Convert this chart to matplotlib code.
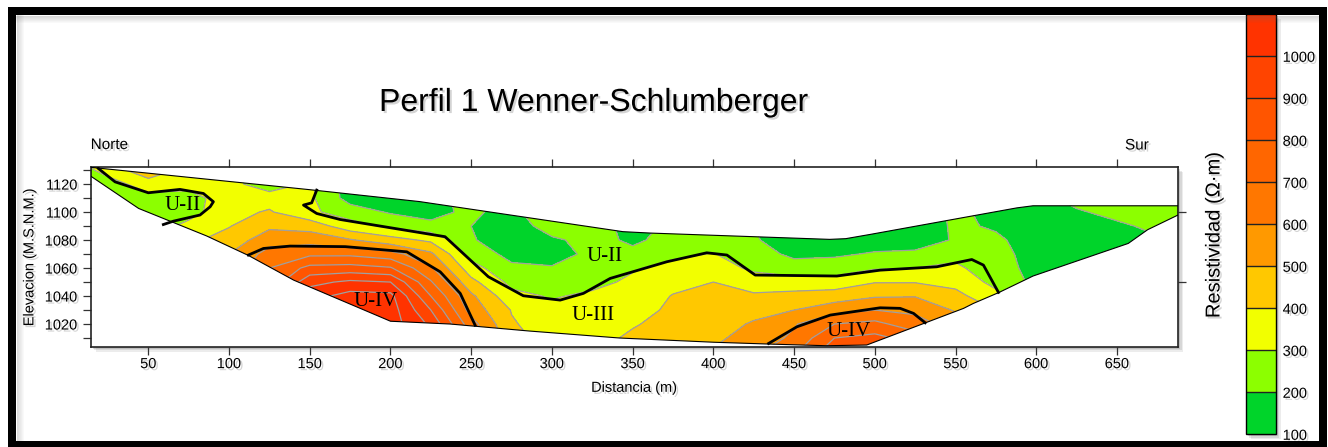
import numpy as np
import matplotlib
matplotlib.use("Agg")
import matplotlib.pyplot as plt
import matplotlib.patheffects as pe
from matplotlib.colors import ListedColormap, BoundaryNorm
from matplotlib.patches import Polygon, Rectangle
from matplotlib.lines import Line2D
from matplotlib.cm import ScalarMappable

plt.rcParams["font.family"] = ["Liberation Sans", "DejaVu Sans"]

# resistivity grid: distance along the line (m) and elevation (m.s.n.m.)
dist = np.arange(0, 701, 25)
elev = np.arange(1000, 1141, 10)

# resistivity (ohm.m), one list per distance, elevation 1000 -> 1140
rho_cols = [
    [250, 250, 250, 250, 250, 250, 250, 250, 250, 250, 250, 250, 250, 230, 280],   # 0
    [250, 250, 250, 250, 250, 250, 250, 250, 250, 250, 250, 250, 260, 335, 380],   # 25
    [240, 240, 240, 240, 240, 240, 240, 240, 240, 240, 240, 270, 345, 480, 480],   # 50
    [380, 380, 380, 380, 380, 380, 380, 380, 380, 330, 260, 255, 340, 360, 360],   # 75
    [520, 520, 520, 520, 520, 520, 520, 500, 440, 395, 370, 360, 340, 320, 320],   # 100
    [720, 720, 720, 720, 720, 720, 700, 640, 560, 480, 410, 360, 230, 250, 250],   # 125
    [1100, 1100, 1100, 1100, 1060, 970, 830, 680, 560, 460, 320, 320, 320, 320, 320],  # 150
    [1150, 1150, 1150, 1150, 1140, 1020, 840, 680, 510, 340, 250, 160, 150, 150, 150],  # 175
    [1150, 1150, 1150, 1150, 1130, 1000, 810, 640, 440, 280, 190, 150, 150, 150, 150],  # 200
    [1000, 990, 980, 900, 800, 710, 615, 520, 380, 230, 160, 150, 150, 150, 150],   # 225
    [700, 680, 640, 560, 520, 430, 340, 260, 210, 200, 230, 250, 250, 250, 250],   # 250
    [440, 440, 410, 395, 330, 270, 220, 170, 140, 130, 140, 150, 150, 150, 150],   # 275
    [350, 350, 350, 330, 290, 230, 210, 150, 180, 260, 380, 380, 380, 380, 380],   # 300
    [360, 360, 350, 340, 320, 270, 240, 230, 240, 260, 280, 280, 280, 280, 280],   # 325
    [450, 420, 390, 360, 340, 320, 290, 230, 180, 150, 150, 150, 150, 150, 150],   # 350
    [470, 460, 440, 420, 405, 370, 330, 280, 240, 230, 230, 230, 230, 230, 230],   # 375
    [510, 480, 460, 440, 420, 400, 350, 305, 250, 220, 220, 220, 220, 220, 220],   # 400
    [580, 540, 510, 470, 415, 350, 280, 240, 210, 200, 200, 200, 200, 200, 200],   # 425
    [680, 620, 590, 500, 430, 345, 240, 180, 150, 150, 150, 150, 150, 150, 150],   # 450
    [870, 800, 700, 560, 450, 340, 250, 185, 150, 150, 150, 150, 150, 150, 150],   # 475
    [900, 830, 730, 600, 490, 395, 290, 210, 150, 140, 140, 140, 140, 140, 140],   # 500
    [820, 760, 640, 580, 495, 395, 300, 220, 150, 140, 140, 140, 140, 140, 140],   # 525
    [650, 620, 560, 490, 430, 370, 320, 270, 210, 215, 220, 220, 220, 220, 220],   # 550
    [500, 470, 440, 400, 330, 270, 240, 230, 215, 190, 170, 170, 170, 170, 170],   # 575
    [200, 200, 200, 200, 180, 175, 170, 165, 160, 150, 150, 170, 170, 170, 170],   # 600
    [150, 150, 150, 150, 150, 150, 150, 150, 155, 165, 190, 230, 230, 230, 230],   # 625
    [160, 160, 160, 160, 160, 160, 160, 160, 170, 185, 225, 260, 260, 260, 260],   # 650
    [190, 190, 190, 190, 190, 190, 190, 190, 190, 220, 240, 260, 260, 260, 260],   # 675
    [220, 220, 220, 220, 220, 220, 220, 220, 220, 240, 250, 260, 260, 260, 260],   # 700
]
rho = np.array(rho_cols, dtype=float).T

# topography and base of the section
top_x = [14.3, 150, 218, 344, 361, 472, 482, 497, 588, 598, 688]
top_z = [1132, 1116, 1107.5, 1086, 1085, 1080.5, 1081, 1084, 1103, 1104.5, 1104.5]
bot_x = [14.3, 44, 86, 112, 140, 200, 237, 286, 342, 400, 434, 470, 495,
         531, 555, 561, 577, 598, 657, 669, 688]
bot_z = [1125.7, 1102.6, 1083, 1069, 1051.4, 1022, 1020, 1015, 1010, 1007, 1005.7,
         1004.5, 1005, 1020.7, 1031.2, 1034.7, 1042.6, 1054.3, 1077.6, 1087.4, 1098]

# interpreted unit boundaries
u2_norte_x = [19, 29.4, 50, 69.6, 84.1, 90.3, 88.3, 82, 65.5, 59.3]
u2_norte_z = [1131.2, 1121.6, 1113.8, 1116.2, 1113.3, 1107.4, 1103.8, 1097.9, 1093.5, 1091.1]
u2_u3_x = [154.3, 151.2, 146.1, 154.3, 168.8, 233.8, 260.6, 282.3, 305.1, 319.5, 336.1,
           371.2, 395.9, 408.4, 425.9, 476.5, 503.3, 538.4, 560.1, 567.3, 576.6]
u2_u3_z = [1115.7, 1106.6, 1105.0, 1099.0, 1094.7, 1082.4, 1053.8, 1040.2, 1037.1, 1041.9,
           1052.6, 1064.5, 1070.9, 1069.3, 1055.0, 1054.3, 1058.5, 1060.9, 1066.1, 1062.1, 1042.6]
u4_oeste_x = [112, 121.3, 137.8, 172, 210.1, 230.8, 243.2, 252.4]
u4_oeste_z = [1069.3, 1074, 1075.7, 1075.3, 1071.6, 1057.3, 1041.9, 1019.2]
u4_este_x = [434.2, 451.7, 472.4, 503.3, 515.7, 524, 531.2]
u4_este_z = [1006.1, 1018, 1026.4, 1031.6, 1031.2, 1027.6, 1020.9]

unit_labels = [("U-II", 71.4, 1105), ("U-II", 332.8, 1068.2), ("U-III", 325.6, 1026),
               ("U-IV", 191, 1036), ("U-IV", 483.6, 1014.7)]

levels = list(range(100, 1101, 100)) + [5000]
fill_colors = ["#00d42a", "#8cff00", "#f2ff00", "#ffc800", "#ff9900",
               "#ff7700", "#ff6600", "#ff5500", "#ff4400", "#ff3300", "#ff3300"]

W, H = 1328, 447
fig = plt.figure(figsize=(W / 100, H / 100), dpi=100)


def fx(px):
    return px / W


def fy(py):
    return 1 - py / H


shadow = [pe.withSimplePatchShadow(offset=(1.5, -1.5), shadow_rgbFace="0.45", alpha=0.3)]

ax_box = [fx(90.7), fy(346.7), fx(1178.3) - fx(90.7), fy(167.3) - fy(346.7)]
cax_box = [fx(1245.7), fy(434.3), fx(1275.7) - fx(1245.7), fy(14.3) - fy(434.3)]

# soft drop shadows behind the plot and the colour bar
for box in (ax_box, cax_box):
    for k, a in zip((5, 3.5, 2), (0.10, 0.13, 0.18)):
        fig.add_artist(Rectangle((box[0] + fx(k), box[1] - k / H), box[2], box[3],
                                 transform=fig.transFigure, facecolor="0.3",
                                 edgecolor="none", alpha=a, zorder=-2))

ax = fig.add_axes(ax_box)
X, Z = np.meshgrid(dist, elev)

section = Polygon(np.column_stack([np.r_[top_x, bot_x[::-1]], np.r_[top_z, bot_z[::-1]]]),
                  closed=True, facecolor="none", edgecolor="black", lw=0.8, zorder=3)
ax.add_patch(section)

cf = ax.contourf(X, Z, rho, levels=levels, colors=fill_colors)
cf.set_clip_path(section)
cl = ax.contour(X, Z, rho, levels=levels[1:-1], colors="#a0a0a0", linewidths=0.9)
cl.set_clip_path(section)

for lx, lz in [(u2_norte_x, u2_norte_z), (u2_u3_x, u2_u3_z),
               (u4_oeste_x, u4_oeste_z), (u4_este_x, u4_este_z)]:
    ax.plot(lx, lz, color="black", lw=2, zorder=4)

for name, lx, lz in unit_labels:
    ax.text(lx, lz, name, family=["Liberation Serif", "DejaVu Serif"], fontsize=15,
            ha="center", va="center", zorder=5)

ax.set_xlim(14.3, 688)
ax.set_ylim(1003.8, 1132)
ax.set_xticks(range(50, 651, 50))
ax.set_yticks(range(1020, 1121, 20))
ax.set_yticks(range(1010, 1131, 10), minor=True)
ax.tick_params(axis="both", which="both", direction="out", length=5.5, width=0.9,
               colors="#333333", labelcolor="black", labelsize=10.5)
ax.tick_params(axis="x", top=True, pad=2)
ax.tick_params(axis="y", pad=4)
for sp in ax.spines.values():
    sp.set_linewidth(1.2)
    sp.set_color("#222222")

sec = ax.secondary_yaxis("right")
sec.set_yticks([1050, 1100])
sec.set_yticklabels([])
sec.tick_params(direction="out", length=6, width=0.9, colors="#333333")
sec.spines["right"].set_visible(False)

ax.set_xlabel("Distancia (m)", fontsize=10.5, labelpad=7)
ax.set_ylabel("Elevacion (M.S.N.M.)", fontsize=10.5, labelpad=6)
for t in ax.get_xticklabels() + ax.get_yticklabels() + [ax.xaxis.label, ax.yaxis.label]:
    t.set_path_effects(shadow)

fig.text(fx(594), fy(103), "Perfil 1 Wenner-Schlumberger", fontsize=23,
         ha="center", va="center", path_effects=shadow)
fig.text(fx(90.7), fy(145), "Norte", fontsize=11, ha="left", va="center", path_effects=shadow)
fig.text(fx(1125), fy(145.5), "Sur", fontsize=11, ha="left", va="center", path_effects=shadow)

# colour scale
cax = fig.add_axes(cax_box)
cb_norm = BoundaryNorm(levels[:-1], 10)
cb = fig.colorbar(ScalarMappable(norm=cb_norm, cmap=ListedColormap(fill_colors[:-1])),
                  cax=cax, drawedges=True, ticks=levels[:-2])
cb.outline.set_linewidth(1)
cb.dividers.set_linewidth(1)
cb.dividers.set_color("#222222")
cax.tick_params(length=0, labelsize=10.5, pad=5)
for t in cax.get_yticklabels():
    t.set_path_effects(shadow)
fig.text(fx(1214), fy(235), "Resistividad (\u03a9\u00b7m)", fontsize=14.5, rotation=90,
         ha="center", va="center", path_effects=shadow)

# black frame with an inner shade on the left and top sides
for k in range(1, 8):
    a = 0.28 * (1 - k / 8)
    fig.add_artist(Line2D([fx(16 + k), fx(16 + k)], [fy(442), fy(15)],
                          transform=fig.transFigure, color="0.4", lw=0.72, alpha=a))
    fig.add_artist(Line2D([fx(16), fx(1318)], [fy(15 + k), fy(15 + k)],
                          transform=fig.transFigure, color="0.4", lw=0.72, alpha=a))
fig.add_artist(Rectangle((fx(12), fy(444.5)), fx(1322.5) - fx(12), fy(11) - fy(444.5),
                         transform=fig.transFigure, fill=False, edgecolor="black",
                         lw=5.76, zorder=10))

fig.savefig("out.png", dpi=100)
